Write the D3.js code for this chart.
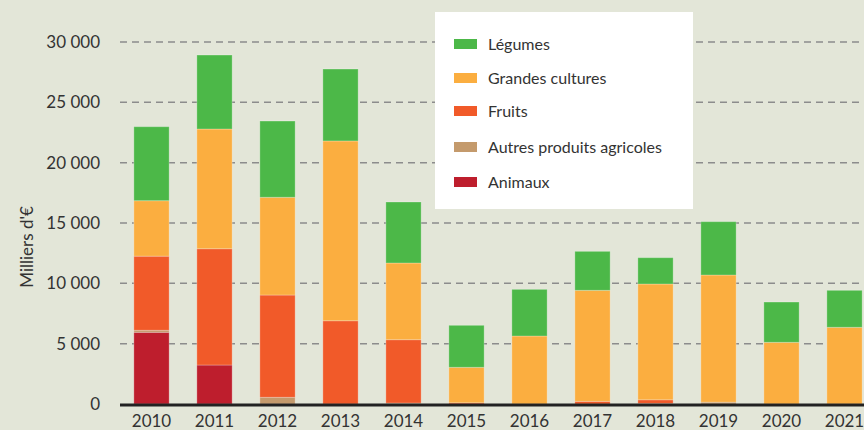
<!DOCTYPE html>
<html>
<head>
<meta charset="utf-8">
<script src="https://cdn.jsdelivr.net/npm/d3@7"></script>
<style>
  body { margin: 0; background: #e3e6d8; }
  svg { display: block; font-family: Lato, "Open Sans", sans-serif; }
</style>
</head>
<body>
<div id="chart"></div>
<script>
var years = ["2010", "2011", "2012", "2013", "2014", "2015", "2016", "2017", "2018", "2019", "2020", "2021"];
var animaux = [5940, 3230, 0, 0, 0, 0, 0, 0, 0, 0, 0, 0];
var autres = [170, 0, 555, 0, 80, 0, 0, 0, 50, 150, 0, 0];
var fruits = [6140, 9640, 8475, 6900, 5250, 100, 0, 220, 300, 0, 0, 0];
var grandes = [4600, 9920, 8100, 14900, 6355, 2940, 5635, 9200, 9595, 10540, 5110, 6355];
var legumes = [6130, 6130, 6320, 5960, 5055, 3480, 3865, 3230, 2180, 4420, 3340, 3065];
var yTicks = [0, 5000, 10000, 15000, 20000, 25000, 30000];

var seriesNames = ["Animaux", "Autres produits agricoles", "Fruits", "Grandes cultures", "Légumes"];
var seriesValues = [animaux, autres, fruits, grandes, legumes];
var colors = ["#be1e2d", "#c49a6c", "#f15a29", "#fbae40", "#4cb848"];

var width = 864, height = 430;
var svg = d3.select('#chart').append('svg')
  .attr('width', width)
  .attr('height', height);

var x = d3.scaleBand().domain(years).range([120, 876]).paddingInner(0.44).paddingOuter(0.22);
var y = d3.scaleLinear().domain([0, 30000]).range([404, 42]);

var rows = years.map(function (yr, i) {
  var r = { year: yr };
  seriesNames.forEach(function (n, k) { r[n] = seriesValues[k][i]; });
  return r;
});
var stack = d3.stack().keys(seriesNames)(rows);

// grid
var fmt = function (d) { return d === 0 ? "0" : d3.format(",")(d).replace(/,/g, " "); };
svg.append('g').selectAll('line')
  .data(yTicks.filter(function (d) { return d > 0; }))
  .enter().append('line')
  .attr('x1', 120).attr('x2', width)
  .attr('y1', function (d) { return y(d); })
  .attr('y2', function (d) { return y(d); })
  .attr('stroke', '#8c8c8c')
  .attr('stroke-width', 1.5)
  .attr('stroke-dasharray', '7,5');

svg.append('g').selectAll('text')
  .data(yTicks)
  .enter().append('text')
  .attr('x', 100)
  .attr('y', function (d) { return y(d); })
  .attr('dy', '0.35em')
  .attr('text-anchor', 'end')
  .attr('font-size', 17)
  .attr('fill', '#333')
  .text(fmt);

svg.append('text')
  .attr('transform', 'translate(33,247) rotate(-90)')
  .attr('text-anchor', 'middle')
  .attr('font-size', 17)
  .attr('fill', '#333')
  .text("Milliers d'€");

// bars
svg.append('g').selectAll('g')
  .data(stack)
  .enter().append('g')
  .attr('fill', function (d, i) { return colors[i]; })
  .selectAll('rect')
  .data(function (d) { return d; })
  .enter().append('rect')
  .filter(function (d) { return d[1] - d[0] > 0; })
  .attr('x', function (d) { return x(d.data.year); })
  .attr('width', x.bandwidth())
  .attr('y', function (d) { return y(d[1]); })
  .attr('height', function (d) { return y(d[0]) - y(d[1]); })
  .attr('stroke', 'rgba(255,255,255,0.25)')
  .attr('stroke-width', 1);

// baseline
svg.append('line')
  .attr('x1', 120).attr('x2', width)
  .attr('y1', y(0) + 1).attr('y2', y(0) + 1)
  .attr('stroke', '#222')
  .attr('stroke-width', 3);

svg.append('g').selectAll('text')
  .data(years)
  .enter().append('text')
  .attr('x', function (d) { return x(d) + x.bandwidth() / 2; })
  .attr('y', 427)
  .attr('text-anchor', 'middle')
  .attr('font-size', 17)
  .attr('fill', '#333')
  .text(function (d) { return d; });

// legend
var legend = svg.append('g');
legend.append('rect')
  .attr('x', 435).attr('y', 12)
  .attr('width', 258).attr('height', 197)
  .attr('fill', '#fff');
var legendItems = seriesNames.slice().reverse();
var legendY = [44, 78, 111, 147, 182];
var li = legend.selectAll('.item')
  .data(legendItems)
  .enter().append('g')
  .attr('class', 'item')
  .attr('transform', function (d, i) { return 'translate(454,' + legendY[i] + ')'; });
li.append('rect')
  .attr('x', 0).attr('y', -5)
  .attr('width', 23).attr('height', 10)
  .attr('fill', function (d) { return colors[seriesNames.indexOf(d)]; });
li.append('text')
  .attr('x', 34)
  .attr('dy', '0.35em')
  .attr('font-size', 16)
  .attr('fill', '#333')
  .text(function (d) { return d; });
</script>
</body>
</html>
